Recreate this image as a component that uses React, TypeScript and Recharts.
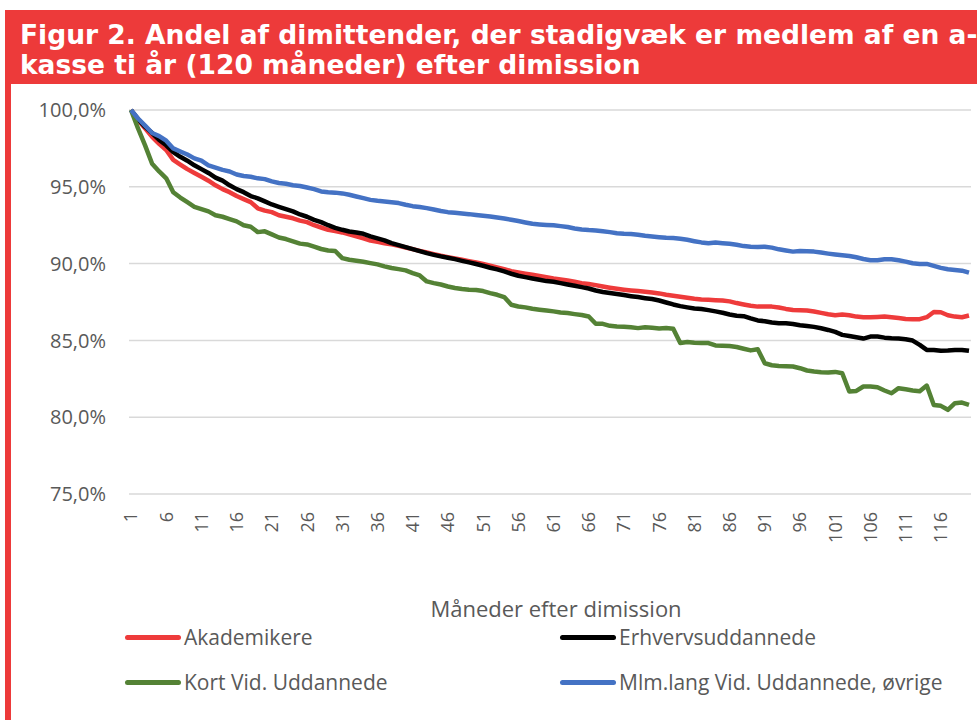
import React from 'react';
import { LineChart, Line, XAxis, YAxis, CartesianGrid, Legend } from 'recharts';

const FONT = '"Open Sans", "Noto Sans", sans-serif';
const TEXT_GREY = '#595959';

// Months after graduation, 1..120
const months = Array.from({ length: 120 }, (_, i) => i + 1);
const yTicks = [75, 80, 85, 90, 95, 100];

// Share (%) still a member of an a-kasse
const akademikere = [
  100, 99.35, 98.8, 98.25, 97.8, 97.4, 96.75, 96.45, 96.15, 95.9,
  95.65, 95.4, 95.1, 94.85, 94.65, 94.4, 94.2, 94.0, 93.6, 93.45,
  93.35, 93.15, 93.05, 92.95, 92.8, 92.7, 92.5, 92.35, 92.2, 92.12,
  92.03, 91.9, 91.77, 91.64, 91.5, 91.42, 91.33, 91.25, 91.16, 91.05,
  90.94, 90.83, 90.73, 90.62, 90.51, 90.42, 90.34, 90.25, 90.16, 90.08,
  89.97, 89.86, 89.75, 89.64, 89.51, 89.42, 89.34, 89.27, 89.19, 89.11,
  89.03, 88.97, 88.9, 88.82, 88.73, 88.67, 88.6, 88.51, 88.43, 88.36,
  88.3, 88.25, 88.21, 88.17, 88.12, 88.06, 87.97, 87.91, 87.84, 87.78,
  87.71, 87.67, 87.65, 87.62, 87.6, 87.54, 87.43, 87.34, 87.26, 87.2,
  87.2, 87.2, 87.14, 87.05, 86.98, 86.96, 86.94, 86.88, 86.79, 86.7,
  86.64, 86.68, 86.64, 86.55, 86.51, 86.51, 86.53, 86.55, 86.51, 86.46,
  86.4, 86.38, 86.38, 86.51, 86.85, 86.83, 86.64, 86.55, 86.51, 86.62,
];

const erhvervsuddannede = [
  100, 99.4, 98.9, 98.5, 98.05, 97.7, 97.25, 96.95, 96.7, 96.4,
  96.15, 95.9, 95.6, 95.4, 95.1, 94.85, 94.65, 94.4, 94.25, 94.05,
  93.85, 93.7, 93.55, 93.4, 93.2, 93.05, 92.85, 92.7, 92.5, 92.33,
  92.2, 92.09, 92.03, 91.94, 91.77, 91.64, 91.51, 91.33, 91.2, 91.07,
  90.94, 90.81, 90.68, 90.57, 90.47, 90.38, 90.29, 90.18, 90.08, 89.97,
  89.86, 89.73, 89.62, 89.49, 89.34, 89.21, 89.12, 89.03, 88.95, 88.86,
  88.82, 88.73, 88.64, 88.56, 88.47, 88.38, 88.25, 88.15, 88.08, 88.02,
  87.95, 87.88, 87.82, 87.75, 87.69, 87.6, 87.47, 87.34, 87.23, 87.15,
  87.08, 87.04, 86.97, 86.89, 86.8, 86.69, 86.6, 86.58, 86.43, 86.3,
  86.25, 86.16, 86.12, 86.12, 86.07, 85.99, 85.94, 85.88, 85.79, 85.68,
  85.55, 85.36, 85.29, 85.21, 85.12, 85.25, 85.25, 85.18, 85.14, 85.12,
  85.08, 84.99, 84.71, 84.38, 84.38, 84.32, 84.34, 84.38, 84.38, 84.32,
];

const kortVid = [
  100, 98.8, 97.7, 96.5, 96.0, 95.55, 94.65, 94.3, 94.0, 93.7,
  93.55, 93.4, 93.15, 93.05, 92.9, 92.75, 92.5, 92.4, 92.05, 92.1,
  91.9, 91.7, 91.6, 91.45, 91.3, 91.25, 91.1, 90.95, 90.85, 90.82,
  90.36, 90.25, 90.18, 90.12, 90.03, 89.95, 89.82, 89.71, 89.64, 89.56,
  89.38, 89.23, 88.84, 88.73, 88.64, 88.51, 88.41, 88.34, 88.3, 88.28,
  88.21, 88.08, 87.97, 87.82, 87.32, 87.21, 87.15, 87.06, 87.0, 86.95,
  86.89, 86.82, 86.78, 86.71, 86.65, 86.56, 86.08, 86.08, 85.95, 85.91,
  85.89, 85.85, 85.8, 85.85, 85.82, 85.78, 85.8, 85.76, 84.83, 84.89,
  84.85, 84.83, 84.83, 84.67, 84.65, 84.63, 84.57, 84.46, 84.35, 84.42,
  83.51, 83.38, 83.34, 83.32, 83.3, 83.19, 83.04, 82.97, 82.93, 82.91,
  82.95, 82.86, 81.67, 81.71, 82.0, 82.0, 81.95, 81.74, 81.56, 81.89,
  81.82, 81.74, 81.69, 82.06, 80.8, 80.74, 80.48, 80.91, 80.95, 80.8,
];

const mlmLangVid = [
  100, 99.45, 98.98, 98.5, 98.3, 98.0, 97.5, 97.3, 97.1, 96.85,
  96.7, 96.4, 96.25, 96.1, 96.0, 95.8, 95.7, 95.65, 95.55, 95.5,
  95.35, 95.25, 95.2, 95.1, 95.05, 94.95, 94.85, 94.7, 94.65, 94.62,
  94.57, 94.48, 94.37, 94.26, 94.15, 94.09, 94.05, 94.0, 93.94, 93.83,
  93.74, 93.68, 93.61, 93.52, 93.42, 93.35, 93.31, 93.26, 93.22, 93.16,
  93.11, 93.07, 93.0, 92.94, 92.85, 92.77, 92.68, 92.59, 92.55, 92.52,
  92.5, 92.44, 92.38, 92.29, 92.22, 92.18, 92.16, 92.11, 92.05, 91.98,
  91.94, 91.92, 91.88, 91.81, 91.77, 91.72, 91.68, 91.66, 91.62, 91.55,
  91.46, 91.38, 91.33, 91.38, 91.33, 91.29, 91.23, 91.14, 91.1, 91.08,
  91.1, 91.04, 90.93, 90.85, 90.78, 90.82, 90.8, 90.78, 90.72, 90.65,
  90.59, 90.54, 90.5, 90.41, 90.3, 90.22, 90.22, 90.28, 90.28, 90.22,
  90.13, 90.02, 89.98, 89.98, 89.85, 89.72, 89.63, 89.59, 89.54, 89.41,
];

const seriesList = [
  { key: 'akademikere', name: 'Akademikere', color: '#EE3B3B', values: akademikere },
  { key: 'erhverv', name: 'Erhvervsuddannede', color: '#000000', values: erhvervsuddannede },
  { key: 'kortVid', name: 'Kort Vid. Uddannede', color: '#548235', values: kortVid },
  { key: 'mlmLang', name: 'Mlm.lang Vid. Uddannede, øvrige', color: '#4472C4', values: mlmLangVid },
];

const chartData = months.map((m, i) => {
  const row: Record<string, number> = { month: m };
  seriesList.forEach((s) => {
    row[s.key] = s.values[i];
  });
  return row;
});

const formatPct = (v: number) => `${v.toFixed(1).replace('.', ',')}%`;

const MonthTick = (props: any) => {
  const { x, y, payload } = props;
  return (
    <text
      x={x}
      y={y}
      dy="0.36em"
      transform={`rotate(-90, ${x}, ${y})`}
      textAnchor="end"
      fill={TEXT_GREY}
      fontSize={18}
      fontFamily={FONT}
    >
      {payload.value}
    </text>
  );
};

// legend item anchors inside the 100px legend box
const legendSpots = [
  { left: 125, top: 17 },
  { left: 560, top: 17 },
  { left: 125, top: 62 },
  { left: 560, top: 62 },
];

const renderLegend = () => (
  <div style={{ position: 'relative', width: 971, height: 100 }}>
    {seriesList.map((s, i) => (
      <div
        key={s.key}
        style={{
          position: 'absolute',
          left: legendSpots[i].left,
          top: legendSpots[i].top - 15,
          height: 30,
          display: 'flex',
          alignItems: 'center',
        }}
      >
        <span
          style={{
            display: 'inline-block',
            width: 56,
            height: 5,
            borderRadius: 3,
            background: s.color,
            marginRight: 3,
          }}
        />
        <span style={{ fontSize: 21, color: TEXT_GREY, fontFamily: FONT, whiteSpace: 'nowrap' }}>
          {s.name}
        </span>
      </div>
    ))}
  </div>
);

export default function App() {
  return (
    <div style={{ position: 'absolute', left: 0, top: 0, width: 977, height: 720, background: '#fff', overflow: 'hidden' }}>
      {/* red title band */}
      <div
        style={{
          position: 'absolute',
          left: 5,
          top: 10,
          width: 972,
          height: 74,
          background: '#ED3A3A',
          color: '#fff',
          fontFamily: '"DejaVu Sans", Verdana, sans-serif',
          fontWeight: 'bold',
          fontSize: 26.5,
          lineHeight: '30px',
          paddingTop: 10,
          paddingLeft: 15,
          boxSizing: 'border-box',
          whiteSpace: 'nowrap',
        }}
      >
        <div>Figur 2. Andel af dimittender, der stadigvæk er medlem af en a-</div>
        <div>kasse ti år (120 måneder) efter dimission</div>
      </div>
      {/* red left border */}
      <div style={{ position: 'absolute', left: 5, top: 84, width: 6, height: 636, background: '#ED3A3A' }} />

      <div style={{ position: 'absolute', left: 0, top: 0 }}>
        <LineChart
          width={977}
          height={720}
          data={chartData}
          margin={{ top: 110, right: 6, left: 0, bottom: 0 }}
        >
          <CartesianGrid vertical={false} stroke="#D9D9D9" strokeWidth={1.5} />
          <XAxis
            dataKey="month"
            type="category"
            scale="point"
            padding={{ left: 2, right: 2 }}
            interval={4}
            axisLine={false}
            tickLine={false}
            tickSize={0}
            tickMargin={18}
            height={126}
            tick={<MonthTick />}
            label={{
              value: 'Måneder efter dimission',
              position: 'insideBottom',
              offset: 3,
              dx: 6,
              fill: TEXT_GREY,
              fontSize: 22,
              fontFamily: FONT,
            }}
          />
          <YAxis
            domain={[75, 100]}
            ticks={yTicks}
            tickFormatter={formatPct}
            axisLine={false}
            tickLine={false}
            tickSize={0}
            tickMargin={23}
            width={129}
            tick={{ fill: TEXT_GREY, fontSize: 20, fontFamily: FONT }}
          />
          <Legend verticalAlign="bottom" align="left" content={renderLegend} />
          {seriesList.map((s) => (
            <Line
              key={s.key}
              type="linear"
              dataKey={s.key}
              name={s.name}
              stroke={s.color}
              strokeWidth={4.5}
              strokeLinejoin="round"
              dot={false}
              isAnimationActive={false}
            />
          ))}
        </LineChart>
      </div>
    </div>
  );
}
